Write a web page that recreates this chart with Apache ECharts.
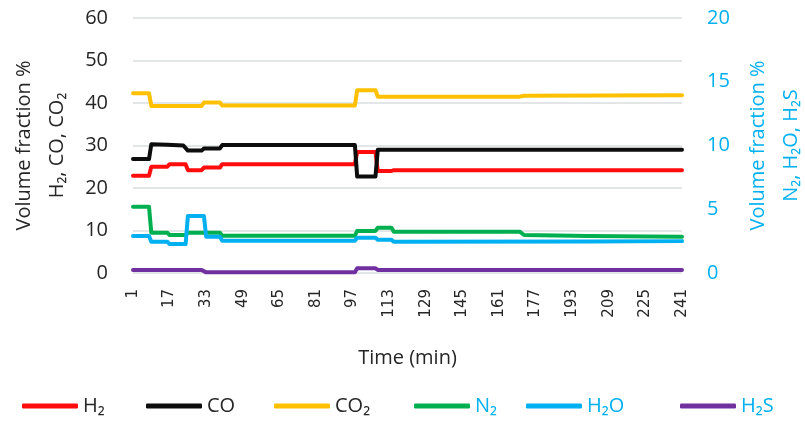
<!DOCTYPE html>
<html><head><meta charset="utf-8">
<script src="https://cdn.jsdelivr.net/npm/echarts@6/dist/echarts.min.js"></script>
<style>html,body{margin:0;padding:0;background:#fff}#c{width:805px;height:426px}</style>
</head><body><div id="c"></div>
<script>
// Time axis (min): 1..241
var times = [];
for (var i = 1; i <= 241; i++) times.push(String(i));

// Vertices of each polyline: [time, value]
// Left axis (%): H2, CO, CO2
var h2 = [[1,22.9],[8,22.9],[9,25.0],[16,25.0],[17,25.6],[24,25.6],[25,24.2],[31,24.2],[32,24.8],[39,24.8],[40,25.6],[98,25.6],[99,28.5],[107,28.5],[108,24.0],[114,24.0],[115,24.2],[241,24.2]];
var co = [[1,26.8],[8,26.8],[9,30.3],[16,30.2],[23,30.0],[25,28.8],[31,28.8],[32,29.3],[39,29.3],[40,30.1],[98,30.1],[99,22.7],[107,22.7],[108,29.0],[241,29.0]];
var co2 = [[1,42.3],[8,42.3],[9,39.3],[31,39.3],[32,40.1],[39,40.1],[40,39.4],[98,39.4],[99,43.0],[107,43.0],[108,41.5],[170,41.5],[172,41.7],[241,41.8]];
// Right axis (%): N2, H2O, H2S
var n2 = [[1,5.2],[8,5.2],[9,3.16],[16,3.16],[17,2.98],[24,2.98],[25,3.16],[39,3.16],[40,2.92],[98,2.92],[99,3.3],[107,3.3],[108,3.55],[114,3.55],[115,3.24],[170,3.24],[172,2.98],[200,2.9],[241,2.85]];
var h2o = [[1,2.9],[8,2.9],[9,2.45],[16,2.45],[17,2.27],[24,2.27],[25,4.47],[32,4.47],[33,2.85],[39,2.85],[40,2.53],[98,2.53],[99,2.77],[107,2.77],[108,2.6],[114,2.6],[115,2.45],[200,2.47],[241,2.5]];
var h2s = [[1,0.24],[31,0.24],[33,0.05],[98,0.05],[99,0.37],[107,0.37],[108,0.24],[241,0.24]];

var leftTicks = [0,10,20,30,40,50,60];
var rightTicks = [0,5,10,15,20];

var names = ['H₂','CO','CO₂','N₂','H₂O','H₂S'];
var colors = ['#ff0d0d','#0d0d0d','#ffc000','#00b050','#00b0f0','#7030a0'];
var sets = [h2, co, co2, n2, h2o, h2s];
var axisIdx = [0,0,0,1,1,1];
var legendLeft = [22,146,274,414,526,680];
var legendTextColor = ['#262626','#262626','#262626','#00b0f0','#00b0f0','#00b0f0'];

var TF = '"Open Sans", sans-serif';

var series = sets.map(function (d, k) {
  return {
    name: names[k], type: 'line', yAxisIndex: axisIdx[k],
    data: d.map(function (p) { return [String(p[0]), p[1]]; }),
    showSymbol: false, symbol: 'none', smooth: false, animation: false,
    lineStyle: { color: colors[k], width: 4, cap: 'round', join: 'round' },
    itemStyle: { color: colors[k] }
  };
});

var legends = names.map(function (n, k) {
  return {
    data: [{ name: n, textStyle: { color: legendTextColor[k] } }],
    left: legendLeft[k], top: 396, itemWidth: 56, itemHeight: 5, icon: 'roundRect',
    itemStyle: { color: colors[k] },
    textStyle: { fontFamily: TF, fontSize: 20, color: legendTextColor[k] },
    padding: 0
  };
});

var chart = echarts.init(document.getElementById('c'), null, { renderer: 'canvas' });
chart.setOption({
  animation: false,
  backgroundColor: '#fff',
  grid: { left: 133, right: 123, top: 18, bottom: 153, containLabel: false, outerBoundsMode: 'none' },
  legend: legends,
  xAxis: {
    type: 'category', data: times, boundaryGap: false,
    name: 'Time (min)', nameLocation: 'middle', nameGap: 75,
    nameTextStyle: { fontFamily: TF, fontSize: 20, color: '#262626' },
    axisLine: { show: false }, axisTick: { show: false },
    axisLabel: { interval: 15, rotate: 90, fontFamily: '"DejaVu Sans", sans-serif', fontSize: 15, color: '#262626', margin: 16 },
    splitLine: { show: false }
  },
  yAxis: [{
    type: 'value', min: leftTicks[0], max: leftTicks[leftTicks.length-1], interval: 10,
    name: 'Volume fraction %\nH₂, CO, CO₂', nameLocation: 'middle', nameGap: 56, nameRotate: 90,
    nameTextStyle: { fontFamily: TF, fontSize: 20, color: '#262626', lineHeight: 33, align: 'center' },
    axisLine: { show: false }, axisTick: { show: false },
    axisLabel: { fontFamily: TF, fontSize: 20, color: '#262626', margin: 25 },
    splitLine: { lineStyle: { color: '#d9dede', width: 1.5 } }
  }, {
    type: 'value', position: 'right', min: rightTicks[0], max: rightTicks[rightTicks.length-1], interval: 5,
    name: 'Volume fraction %\nN₂, H₂O, H₂S', nameLocation: 'middle', nameGap: 60, nameRotate: 90,
    nameTextStyle: { fontFamily: TF, fontSize: 20, color: '#00b0f0', lineHeight: 33, align: 'center' },
    axisLine: { show: false }, axisTick: { show: false },
    axisLabel: { fontFamily: TF, fontSize: 20, color: '#00b0f0', margin: 25 },
    splitLine: { show: false }
  }],
  series: series
});
</script></body></html>
